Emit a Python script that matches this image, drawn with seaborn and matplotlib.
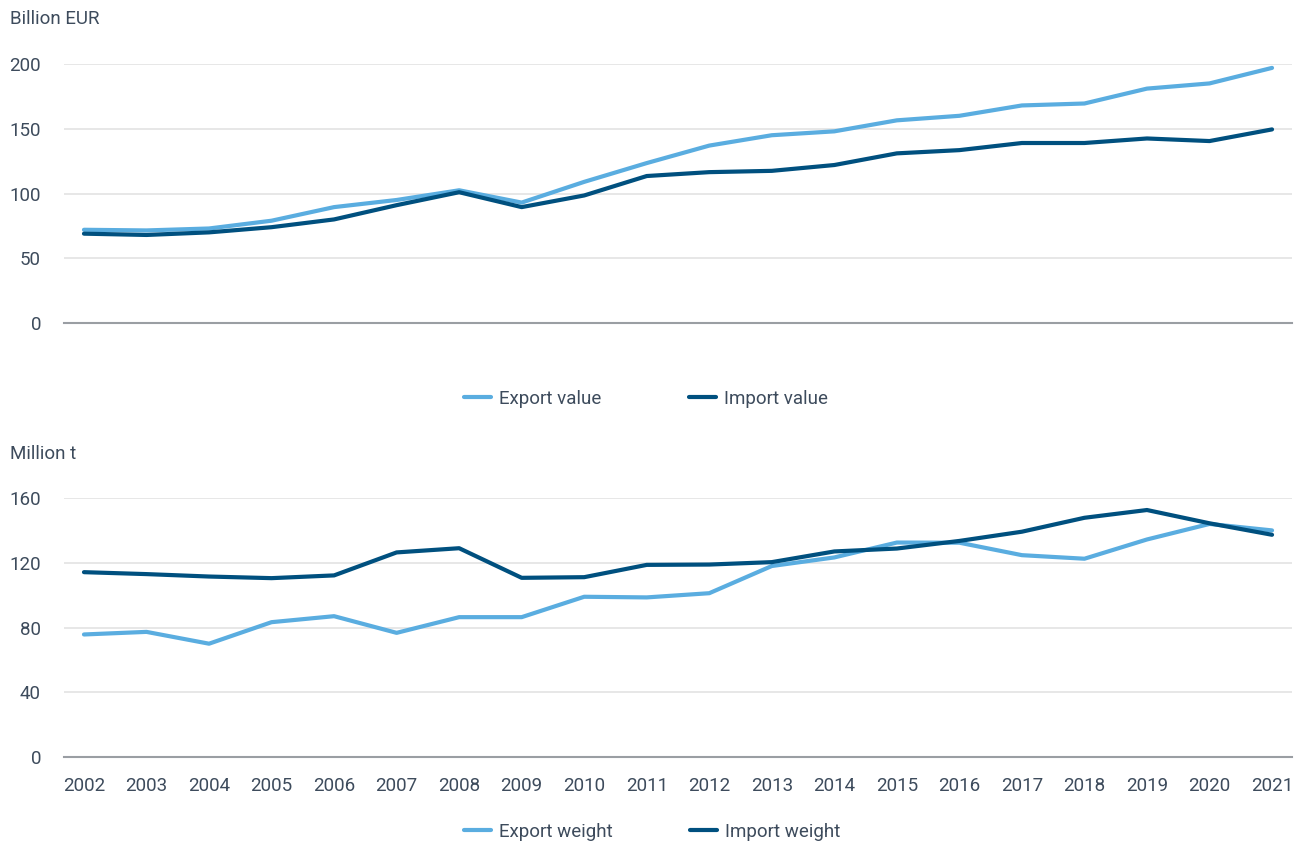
import numpy as np
import pandas as pd
import matplotlib
matplotlib.use("Agg")
import matplotlib.pyplot as plt
import seaborn as sns
from matplotlib.lines import Line2D

years = list(range(2002, 2022))
export_value = [72, 71.5, 73, 79, 89.5, 95, 102.5, 93, 109, 123.5, 137, 145, 148, 156.5, 160, 168, 169.5, 181, 185, 197]
import_value = [69, 68, 70, 74, 80, 91, 101, 89.5, 98.5, 113.5, 116.5, 117.5, 122, 131, 133.5, 139, 139, 142.5, 140.5, 149.5]
export_weight = [75.7, 77.3, 70, 83.3, 87, 76.7, 86.4, 86.4, 99, 98.6, 101.2, 118, 123.3, 132.5, 132.4, 124.7, 122.5, 134.4, 144, 140]
import_weight = [114.2, 113, 111.5, 110.5, 112.2, 126.4, 129, 110.7, 111.1, 118.7, 118.9, 120.4, 127, 128.8, 133.5, 139.2, 147.8, 152.6, 144.4, 137.3]

light = "#5AADE0"
dark = "#00507F"
text_col = "#3D4B5C"
fs = 13.5

sns.set_style("white")
plt.rcParams["font.family"] = ["Roboto", "DejaVu Sans"]

value_df = pd.DataFrame({
    "year": years * 2,
    "val": export_value + import_value,
    "series": ["Export value"] * 20 + ["Import value"] * 20,
})
weight_df = pd.DataFrame({
    "year": years * 2,
    "val": export_weight + import_weight,
    "series": ["Export weight"] * 20 + ["Import weight"] * 20,
})

fig = plt.figure(figsize=(13.08, 8.41), dpi=100)
ax1 = fig.add_axes([0.0489, 0.6159, 0.9389, 0.308])
ax2 = fig.add_axes([0.0489, 0.0999, 0.9389, 0.3079])


def style(ax, ymax, step):
    ax.set_xlim(2001.68, 2021.32)
    ax.set_ylim(0, ymax)
    ax.set_yticks(np.arange(0, ymax + 1, step))
    ax.grid(axis="y", color="#E3E3E3", lw=1.2)
    ax.set_axisbelow(True)
    for s in ["top", "right", "left"]:
        ax.spines[s].set_visible(False)
    ax.spines["bottom"].set_color("#9A9EA3")
    ax.spines["bottom"].set_linewidth(1.5)
    ax.tick_params(axis="both", length=0, labelsize=fs, labelcolor=text_col, pad=16.5)
    ax.set_xlabel("")
    ax.set_ylabel("")


sns.lineplot(data=value_df, x="year", y="val", hue="series",
             palette=[light, dark], lw=3, ax=ax1, legend=False, clip_on=False)
sns.lineplot(data=weight_df, x="year", y="val", hue="series",
             palette=[light, dark], lw=3, ax=ax2, legend=False, clip_on=False)

style(ax1, 200, 50)
style(ax2, 160, 40)
ax1.set_xticks([])
ax2.set_xticks(years)
ax2.tick_params(axis="x", pad=14.5)

fig.text(10 / 1308, 1 - 19 / 841, "Billion EUR", fontsize=fs, color=text_col, va="center")
fig.text(10 / 1308, 1 - 454 / 841, "Million t", fontsize=fs, color=text_col, va="center")

handles = [Line2D([], [], color=light, lw=3), Line2D([], [], color=dark, lw=3)]
for labels, x, y, gap in [(["Export value", "Import value"], 646 / 1308, 1 - 399 / 841, 4.7),
                          (["Export weight", "Import weight"], 652 / 1308, 1 - 832 / 841, 4.1)]:
    leg = fig.legend(handles, labels, loc="center", bbox_to_anchor=(x, y), ncol=2,
                     frameon=False, fontsize=fs, handlelength=1.45, handletextpad=0.43,
                     columnspacing=gap, borderpad=0, borderaxespad=0)
    for t in leg.get_texts():
        t.set_color(text_col)

fig.savefig("out.png", dpi=100)
